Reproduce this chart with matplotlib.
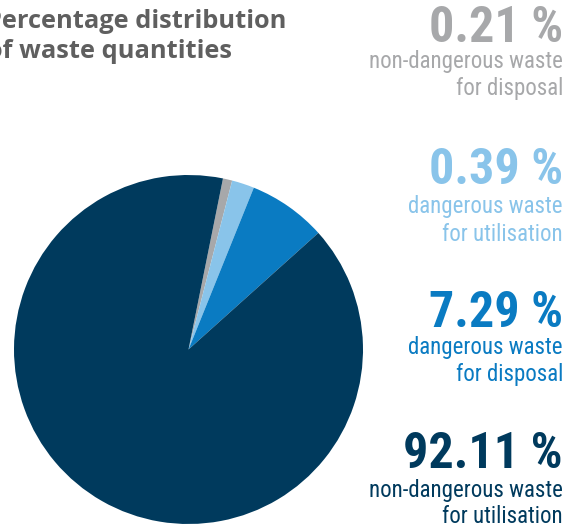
import matplotlib
matplotlib.use("Agg")
import matplotlib.pyplot as plt
from matplotlib import font_manager

# ---- data ----
categories = [
    "non-dangerous waste\nfor disposal",
    "dangerous waste\nfor utilisation",
    "dangerous waste\nfor disposal",
    "non-dangerous waste\nfor utilisation",
]
label_percent = [0.21, 0.39, 7.29, 92.11]          # printed percentages
wedge_share = [0.86, 2.08, 7.25, 89.81]            # wedge sizes as drawn in the picture
colors = ["#a7a8aa", "#89c4ea", "#0a7bc2", "#003a5d"]
title_lines = ["Percentage distribution", "of waste quantities"]

W, H = 576, 529
DPI = 100


def pick(cands, default):
    for c in cands:
        try:
            font_manager.findfont(font_manager.FontProperties(family=c), fallback_to_default=False)
            return c
        except Exception:
            pass
    return default


narrow = pick(["Liberation Sans Narrow", "Roboto Condensed", "Open Sans Condensed", "DejaVu Sans Condensed"], "DejaVu Sans")
titlef = pick(["Open Sans", "Lato", "DejaVu Sans"], "DejaVu Sans")

fig = plt.figure(figsize=(W / DPI, H / DPI), dpi=DPI)
fig.patch.set_facecolor("white")

# pie axes (pixel geometry)
cx, cy, r = 188.5, 349.5, 174.5
ax = fig.add_axes([(cx - r) / W, (H - cy - r) / H, 2 * r / W, 2 * r / H])
ax.pie(wedge_share, colors=colors, startangle=78.6, counterclock=False,
       radius=1.0, wedgeprops=dict(linewidth=0))
ax.set_xlim(-1, 1)
ax.set_ylim(-1, 1)
ax.set_aspect("equal")
ax.axis("off")


def px(x, y):
    return x / W, 1 - y / H


# title (cropped at left edge, as in the source layout)
fig.text(*px(286, 28), title_lines[0], ha="right", va="baseline",
         fontsize=18.3, fontweight="bold", color="#5f5f5f", family=titlef)
fig.text(*px(232, 58), title_lines[1], ha="right", va="baseline",
         fontsize=18.3, fontweight="bold", color="#5f5f5f", family=titlef)

# right-hand labels
xr = 563
big_base = [42, 184, 327, 468]
sub_base = [(68, 95), (213, 241), (354, 381), (497, 523)]
for pct, cat, col, b, (s1, s2) in zip(label_percent, categories, colors, big_base, sub_base):
    fig.text(*px(xr, b), f"{pct:.2f} %", ha="right", va="baseline",
             fontsize=36, fontweight="bold", color=col, family=narrow)
    l1, l2 = cat.split("\n")
    fig.text(*px(xr, s1), l1, ha="right", va="baseline",
             fontsize=16.5, color=col, family=narrow)
    fig.text(*px(xr, s2), l2, ha="right", va="baseline",
             fontsize=16.5, color=col, family=narrow)

fig.savefig("out.png", dpi=DPI, facecolor="white")
